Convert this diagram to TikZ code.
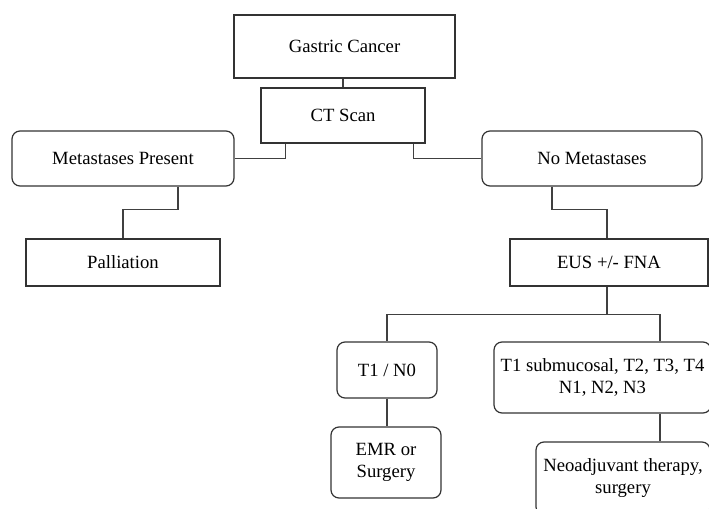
\documentclass[tikz,border=0pt]{standalone}
\usepackage{fontspec}
\setmainfont{Liberation Serif}
\usetikzlibrary{calc}
\tikzset{
  box/.style={draw=black!80, line width=0.9pt, fill=white, inner sep=2pt, align=center,
    font=\fontsize{14pt}{16.5pt}\selectfont, text=black},
  rbox/.style={box, rounded corners=6pt},
  link/.style={draw=black!75, line width=0.9pt}
}
\begin{document}
\begin{tikzpicture}[x=0.75pt,y=-0.75pt]
\useasboundingbox (0,0) rectangle (709,509);
\clip (0,0) rectangle (709,509);
% nodes
\node[box, minimum width=165.75pt, minimum height=47.25pt] (gc) at (344.5,46.5) {Gastric Cancer};
\node[box, minimum width=123pt, minimum height=41.25pt] (ct) at (343,115.5) {CT Scan};
\node[rbox, minimum width=166.5pt, minimum height=41.25pt] (mp) at (123,158.5) {Metastases Present};
\node[rbox, minimum width=165pt, minimum height=41.25pt] (nm) at (592,158.5) {No Metastases};
\node[box, minimum width=145.5pt, minimum height=35.25pt] (pal) at (123,262.5) {Palliation};
\node[box, minimum width=148.5pt, minimum height=35.25pt] (eus) at (609,262.5) {EUS +/- FNA};
\node[rbox, minimum width=75pt, minimum height=42pt] (t1) at (387,370) {T1 / N0};
\node[rbox, minimum width=162.75pt, minimum height=53.25pt] (t1s) at (602.5,377.5) {T1 submucosal, T2, T3, T4\\N1, N2, N3};
\node[rbox, minimum width=82.5pt, minimum height=53.25pt] (emr) at (386,462.5) {EMR or\\Surgery};
\node[rbox, minimum width=130.5pt, minimum height=54.75pt] (neo) at (623,478.5) {Neoadjuvant therapy,\\surgery};
% connectors
\draw[link] (gc.south -| ct.north) -- (ct.north);
\draw[link] ($(ct.south west)+(25,0)$) |- (mp.east);
\draw[link] ($(ct.south east)+(-12,0)$) |- (nm.west);
\coordinate (mpb) at ($(mp.south)+(55,0)$);
\draw[link] (mpb) -- ++(0,23) -| (pal.north);
\coordinate (nmb) at ($(nm.south)+(-40,0)$);
\draw[link] (nmb) -- ++(0,23) -| ($(eus.north)+(-2,0)$);
\coordinate (eusb) at ($(eus.south)+(-2,0)$);
\coordinate (split) at ($(eusb)+(0,28)$);
\draw[link] (eusb) -- (split);
\draw[link] (split) -| (t1.north);
\draw[link] (split) -| ($(t1s.north)+(57.5,0)$);
\draw[link] (t1.south) -- (emr.north -| t1.south);
\coordinate (t1sb) at ($(t1s.south)+(57.5,0)$);
\draw[link] (t1sb) -- (neo.north -| t1sb);
\end{tikzpicture}
\end{document}
